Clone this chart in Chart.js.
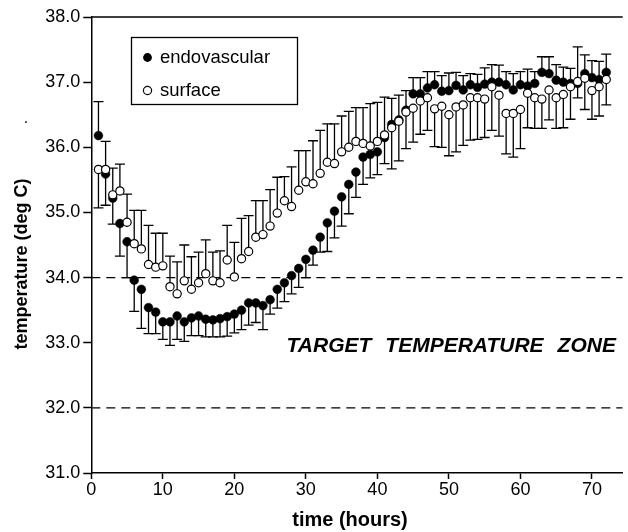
<!DOCTYPE html>
<html>
<head>
<meta charset="utf-8">
<script src="https://cdn.jsdelivr.net/npm/chart.js@4"></script>
<style>
  html, body { margin: 0; padding: 0; background: #fff; }
  #wrap { width: 628px; height: 532px; }
</style>
</head>
<body>
<div id="wrap"><canvas id="chart" width="628" height="532"></canvas></div>
<script>
// hours after start
const hours = [1, 2, 3, 4, 5, 6, 7, 8, 9, 10, 11, 12, 13, 14, 15, 16, 17, 18, 19, 20, 21, 22, 23, 24,
  25, 26, 27, 28, 29, 30, 31, 32, 33, 34, 35, 36, 37, 38, 39, 40, 41, 42, 43, 44, 45, 46, 47, 48,
  49, 50, 51, 52, 53, 54, 55, 56, 57, 58, 59, 60, 61, 62, 63, 64, 65, 66, 67, 68, 69, 70, 71, 72];

const endoMean = [36.18, 35.59, 35.22, 34.83, 34.55, 33.96, 33.82, 33.54, 33.47, 33.32, 33.32, 33.41,
  33.32, 33.38, 33.41, 33.36, 33.35, 33.37, 33.40, 33.44, 33.50, 33.61, 33.61, 33.57,
  33.66, 33.82, 33.92, 34.03, 34.14, 34.28, 34.42, 34.62, 34.84, 35.02, 35.24, 35.43,
  35.62, 35.85, 35.89, 35.93, 36.15, 36.35, 36.42, 36.57, 36.82, 36.82, 36.91, 36.96,
  36.86, 36.87, 36.95, 36.88, 36.96, 36.92, 36.97, 37.00, 37.00, 36.96, 36.88, 36.96,
  36.94, 36.98, 37.15, 37.13, 37.03, 37.00, 36.98, 36.98, 37.13, 37.07, 37.04, 37.15];

const endoSD = [0.52, 0.48, 0.40, 0.50, 0.55, 0.48, 0.60, 0.40, 0.33, 0.27, 0.36, 0.36,
  0.30, 0.27, 0.30, 0.27, 0.26, 0.28, 0.30, 0.29, 0.30, 0.34, 0.30, 0.37,
  0.22, 0.29, 0.29, 0.28, 0.29, 0.28, 0.23, 0.23, 0.44, 0.41, 0.45, 0.45,
  0.39, 0.42, 0.36, 0.35, 0.40, 0.40, 0.38, 0.30, 0.25, 0.25, 0.25, 0.20,
  0.24, 0.27, 0.20, 0.22, 0.17, 0.20, 0.25, 0.27, 0.26, 0.20, 0.25, 0.20,
  0.26, 0.18, 0.24, 0.26, 0.24, 0.23, 0.23, 0.22, 0.29, 0.26, 0.28, 0.28];

const surfMean = [35.66, 35.66, 35.27, 35.33, 34.85, 34.52, 34.44, 34.20, 34.16, 34.18, 33.86, 33.75,
  33.95, 33.82, 33.92, 34.06, 33.95, 33.92, 34.27, 34.01, 34.29, 34.40, 34.62, 34.66,
  34.79, 34.99, 35.18, 35.09, 35.34, 35.47, 35.44, 35.60, 35.77, 35.75, 35.93, 36.00,
  36.09, 36.06, 36.02, 36.09, 36.19, 36.30, 36.40, 36.54, 36.60, 36.71, 36.76, 36.59,
  36.63, 36.50, 36.62, 36.65, 36.76, 36.76, 36.74, 36.93, 36.80, 36.52, 36.52, 36.58,
  36.83, 36.76, 36.74, 36.88, 36.76, 36.81, 36.93, 37.01, 37.06, 36.87, 36.93, 37.04];

const surfSD = [0.59, 0.43, 0.41, 0.41, 0.43, 0.51, 0.59, 0.60, 0.52, 0.50, 0.47, 0.49,
  0.55, 0.50, 0.47, 0.52, 0.44, 0.49, 0.53, 0.53, 0.62, 0.55, 0.56, 0.52,
  0.56, 0.55, 0.37, 0.61, 0.61, 0.48, 0.66, 0.66, 0.59, 0.61, 0.55, 0.55,
  0.52, 0.55, 0.65, 0.60, 0.58, 0.63, 0.61, 0.56, 0.52, 0.51, 0.50, 0.58,
  0.63, 0.63, 0.69, 0.62, 0.65, 0.64, 0.59, 0.67, 0.63, 0.62, 0.67, 0.60,
  0.53, 0.47, 0.45, 0.46, 0.47, 0.51, 0.50, 0.53, 0.48, 0.44, 0.45, 0.39];

const xTicks = [0, 10, 20, 30, 40, 50, 60, 70];
const yTicks = [31, 32, 33, 34, 35, 36, 37, 38];
const zoneLines = [34, 32];
const zoneWords = ["TARGET", "TEMPERATURE", "ZONE"];

const FONT = "'Liberation Sans', Arial, sans-serif";

const toPoints = (ys) => hours.map((h, i) => ({ x: h, y: ys[i] }));

// one-sided SD bars, pointing away from the other group
const errorBarPlugin = {
  id: "errorBars",
  beforeDatasetsDraw(chart) {
    const { ctx, scales } = chart;
    const { x, y } = scales;
    ctx.save();
    ctx.strokeStyle = "#000";
    ctx.lineWidth = 1.3;
    const groups = [
      { mean: endoMean, sd: endoSD, other: surfMean },
      { mean: surfMean, sd: surfSD, other: endoMean },
    ];
    groups.forEach((g) => {
      hours.forEach((h, i) => {
        const dir = g.mean[i] >= g.other[i] ? 1 : -1;
        const px = x.getPixelForValue(h);
        const y0 = y.getPixelForValue(g.mean[i]);
        const y1 = y.getPixelForValue(g.mean[i] + dir * g.sd[i]);
        ctx.beginPath();
        ctx.moveTo(px, y0);
        ctx.lineTo(px, y1);
        ctx.moveTo(px - 5, y1);
        ctx.lineTo(px + 5, y1);
        ctx.stroke();
      });
    });
    ctx.restore();
  },
};

const decorPlugin = {
  id: "decor",
  afterDraw(chart) {
    const { ctx, chartArea, scales } = chart;
    ctx.save();
    // top frame line
    ctx.strokeStyle = "#000";
    ctx.lineWidth = 1.5;
    ctx.beginPath();
    ctx.moveTo(chartArea.left, chartArea.top);
    ctx.lineTo(chartArea.right, chartArea.top);
    ctx.stroke();

    // zone label
    ctx.fillStyle = "#000";
    ctx.font = "italic bold 21px " + FONT;
    ctx.textBaseline = "alphabetic";
    ctx.textAlign = "left";
    let tx = scales.x.getPixelForValue(27.3);
    const ty = scales.y.getPixelForValue(32.85);
    zoneWords.forEach((w) => {
      ctx.fillText(w, tx, ty);
      tx += ctx.measureText(w).width + 14;
    });

    // legend box
    ctx.lineWidth = 1.3;
    ctx.strokeRect(131.5, 37.5, 166, 67);
    ctx.font = "18.5px " + FONT;
    ctx.textBaseline = "middle";
    ctx.beginPath();
    ctx.arc(147.5, 57.5, 4.4, 0, Math.PI * 2);
    ctx.fill();
    ctx.fillText("endovascular", 160, 58);
    ctx.beginPath();
    ctx.arc(147.5, 90.5, 4.1, 0, Math.PI * 2);
    ctx.fillStyle = "#fff";
    ctx.fill();
    ctx.lineWidth = 1.2;
    ctx.stroke();
    ctx.fillStyle = "#000";
    ctx.fillText("surface", 160, 91);

    // axis titles
    ctx.font = "bold 18px " + FONT;
    ctx.textAlign = "center";
    ctx.save();
    ctx.translate(22, 264);
    ctx.rotate(-Math.PI / 2);
    ctx.fillText("temperature (deg C)", 0, 0);
    ctx.restore();
    ctx.font = "bold 20px " + FONT;
    ctx.fillText("time (hours)", 350, 520);
    ctx.font = "16px " + FONT;
    ctx.fillText(".", 26, 119);
    ctx.restore();
  },
};

const zoneDatasets = zoneLines.map((v) => ({
  type: "line",
  data: [{ x: 0, y: v }, { x: 74.3, y: v }],
  borderColor: "#000",
  borderWidth: 1.3,
  borderDash: [9, 6],
  pointRadius: 0,
  fill: false,
  order: 3,
}));

new Chart(document.getElementById("chart"), {
  type: "scatter",
  data: {
    datasets: [
      {
        label: "endovascular",
        data: toPoints(endoMean),
        pointRadius: 4.4,
        backgroundColor: "#000",
        borderColor: "#000",
        borderWidth: 0.5,
        order: 1,
      },
      {
        label: "surface",
        data: toPoints(surfMean),
        pointRadius: 4.1,
        backgroundColor: "#fff",
        borderColor: "#000",
        borderWidth: 1.2,
        order: 0,
      },
      ...zoneDatasets,
    ],
  },
  options: {
    responsive: false,
    animation: false,
    devicePixelRatio: 1,
    layout: { padding: { top: 17, right: 2, left: 0, bottom: 0 } },
    plugins: { legend: { display: false }, tooltip: { enabled: false } },
    scales: {
      x: {
        type: "linear",
        min: 0,
        max: 74.3,
        afterBuildTicks: (scale) => { scale.ticks = xTicks.map((v) => ({ value: v })); },
        afterFit: (scale) => { scale.height = 59; },
        ticks: { color: "#000", font: { family: FONT, size: 18 }, padding: 0, maxRotation: 0 },
        grid: { drawOnChartArea: false, color: "#000", tickColor: "#000", tickLength: 6, tickWidth: 1.5 },
        border: { color: "#000", width: 1.5 },
      },
      y: {
        min: 31,
        max: 38,
        afterBuildTicks: (scale) => { scale.ticks = yTicks.map((v) => ({ value: v })); },
        afterFit: (scale) => { scale.width = 91.3; },
        ticks: { color: "#000", font: { family: FONT, size: 18 }, padding: 3, callback: (v) => v.toFixed(1) },
        grid: { drawOnChartArea: false, color: "#000", tickColor: "#000", tickLength: 8, tickWidth: 1.5 },
        border: { color: "#000", width: 1.5 },
      },
    },
  },
  plugins: [errorBarPlugin, decorPlugin],
});
</script>
</body>
</html>
